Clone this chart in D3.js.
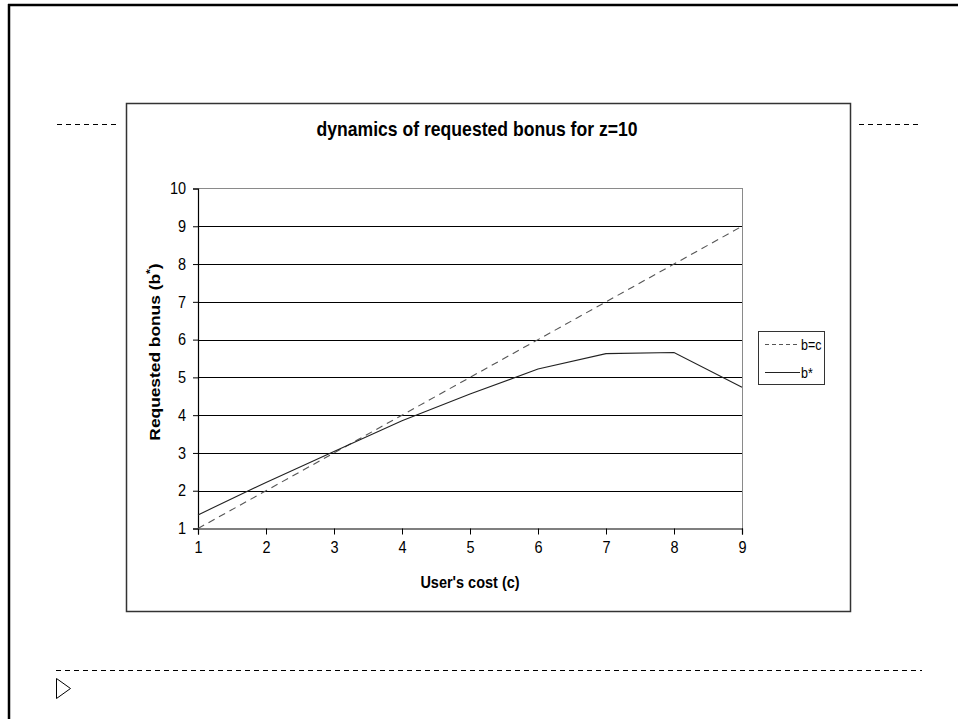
<!DOCTYPE html>
<html>
<head>
<meta charset="utf-8">
<script src="https://cdn.jsdelivr.net/npm/d3@7/dist/d3.min.js"></script>
<style>
  html, body { margin: 0; padding: 0; background: #fff; }
  svg { display: block; }
  text { font-family: "Liberation Sans", Arial, sans-serif; fill: #000; }
</style>
</head>
<body>
<svg id="page" width="958" height="719"></svg>
<script>
// Data: user's cost c and the two curves plotted against it
const costs = [1, 2, 3, 4, 5, 6, 7, 8, 9];
const breakEven = [1, 2, 3, 4, 5, 6, 7, 8, 9];                       // b = c
const bStar = [1.36, 2.22, 3.04, 3.85, 4.56, 5.22, 5.63, 5.66, 4.74]; // b*
const xTicks = [1, 2, 3, 4, 5, 6, 7, 8, 9];
const yTicks = [1, 2, 3, 4, 5, 6, 7, 8, 9, 10];
const seriesNames = ["b=c", "b*"];

// Text in this sheet is drawn slightly tall and narrow
const STRETCH = 1.12;

const svg = d3.select("#page");

// Page frame (document edges)
svg.append("line").attr("x1", 8).attr("x2", 958).attr("y1", 5).attr("y2", 5)
  .attr("stroke", "#000").attr("stroke-width", 2.5);
svg.append("line").attr("x1", 9).attr("x2", 9).attr("y1", 4).attr("y2", 719)
  .attr("stroke", "#000").attr("stroke-width", 2.5);

// Dashed section rules around the chart object
const rule = (x1, x2, y) => svg.append("line")
  .attr("x1", x1).attr("x2", x2).attr("y1", y).attr("y2", y)
  .attr("stroke", "#000").attr("stroke-width", 1).attr("stroke-dasharray", "5,4")
  .attr("shape-rendering", "crispEdges");
rule(57, 120, 124.5);
rule(859, 922, 124.5);
rule(56, 922, 670.5);

// Small outlined triangle marker
svg.append("path").attr("d", "M56.5,678.5 L70.5,688.5 L56.5,698.5 Z")
  .attr("fill", "#fff").attr("stroke", "#000").attr("stroke-width", 1);

// Chart box
svg.append("rect").attr("x", 126.5).attr("y", 103.5).attr("width", 724).attr("height", 508)
  .attr("fill", "#fff").attr("stroke", "#333").attr("stroke-width", 1.5);

// Plot area
const plot = { left: 198, right: 742, top: 188.5, bottom: 528.5 };
const x = d3.scaleLinear().domain([1, 9]).range([plot.left, plot.right]);
const y = d3.scaleLinear().domain([1, 10]).range([plot.bottom, plot.top]);

const g = svg.append("g");

// Plot area outline (top and right) in grey
g.append("path")
  .attr("d", `M${plot.left},${plot.top}H${plot.right}V${plot.bottom}`)
  .attr("fill", "none").attr("stroke", "#8a8a8a").attr("stroke-width", 1)
  .attr("shape-rendering", "crispEdges");

// Horizontal gridlines
g.selectAll("line.grid").data(yTicks.filter(v => v > 1 && v < 10)).join("line")
  .attr("class", "grid")
  .attr("x1", plot.left).attr("x2", plot.right)
  .attr("y1", d => Math.round(y(d)) + 0.5).attr("y2", d => Math.round(y(d)) + 0.5)
  .attr("stroke", "#000").attr("stroke-width", 1);

// Axes
const xAxis = g.append("g").attr("transform", `translate(0,${plot.bottom})`)
  .call(d3.axisBottom(x).tickValues(xTicks).tickSize(6).tickPadding(6).tickFormat(d3.format("d")));
const yAxis = g.append("g").attr("transform", `translate(${plot.left},0)`)
  .call(d3.axisLeft(y).tickValues(yTicks).tickSize(5).tickPadding(7).tickFormat(d3.format("d")));
[xAxis, yAxis].forEach(a => {
  a.select(".domain").attr("stroke", "#000").attr("stroke-width", 1.2);
  a.selectAll(".tick line").attr("stroke", "#000");
  a.selectAll(".tick text").attr("font-size", 14.5)
    .attr("font-family", "'Liberation Sans', Arial, sans-serif").attr("fill", "#000")
    .attr("transform", `scale(1,${STRETCH})`);
});

// Series lines
const line = d3.line().x((d, i) => x(costs[i])).y(d => y(d));
g.append("path").datum(breakEven).attr("d", line)
  .attr("fill", "none").attr("stroke", "#555").attr("stroke-width", 1.1)
  .attr("stroke-dasharray", "7,5");
g.append("path").datum(bStar).attr("d", line)
  .attr("fill", "none").attr("stroke", "#222").attr("stroke-width", 1.1);

// Titles
const label = (tx, ty, size, str) => svg.append("text")
  .attr("transform", `translate(${tx},${ty}) scale(1,${STRETCH})`)
  .attr("text-anchor", "middle").attr("font-size", size).attr("font-weight", "bold")
  .text(str);
label(477, 136, 17.6, "dynamics of requested bonus for z=10");
label(470, 588, 14.5, "User's cost (c)");

const yt = svg.append("text")
  .attr("transform", `translate(160,352) scale(1,${STRETCH}) rotate(-90)`)
  .attr("text-anchor", "middle").attr("font-size", 15.5).attr("font-weight", "bold");
yt.append("tspan").text("Requested bonus (b");
yt.append("tspan").attr("font-size", 11).attr("dy", -6).text("*");
yt.append("tspan").attr("dy", 6).text(")");

// Legend
const lg = svg.append("g");
lg.append("rect").attr("x", 758.5).attr("y", 331.5).attr("width", 66).attr("height", 53)
  .attr("fill", "#fff").attr("stroke", "#333").attr("stroke-width", 1);
const legendRows = [
  { name: seriesNames[0], dash: "4,3", color: "#555", y: 344.5 },
  { name: seriesNames[1], dash: null, color: "#222", y: 372.5 }
];
legendRows.forEach(r => {
  lg.append("line").attr("x1", 765).attr("x2", 800).attr("y1", r.y).attr("y2", r.y)
    .attr("stroke", r.color).attr("stroke-width", 1)
    .attr("stroke-dasharray", r.dash);
  lg.append("text").attr("transform", `translate(801,${r.y + 5}) scale(1,${STRETCH})`)
    .attr("font-size", 12.5).text(r.name);
});
</script>
</body>
</html>
